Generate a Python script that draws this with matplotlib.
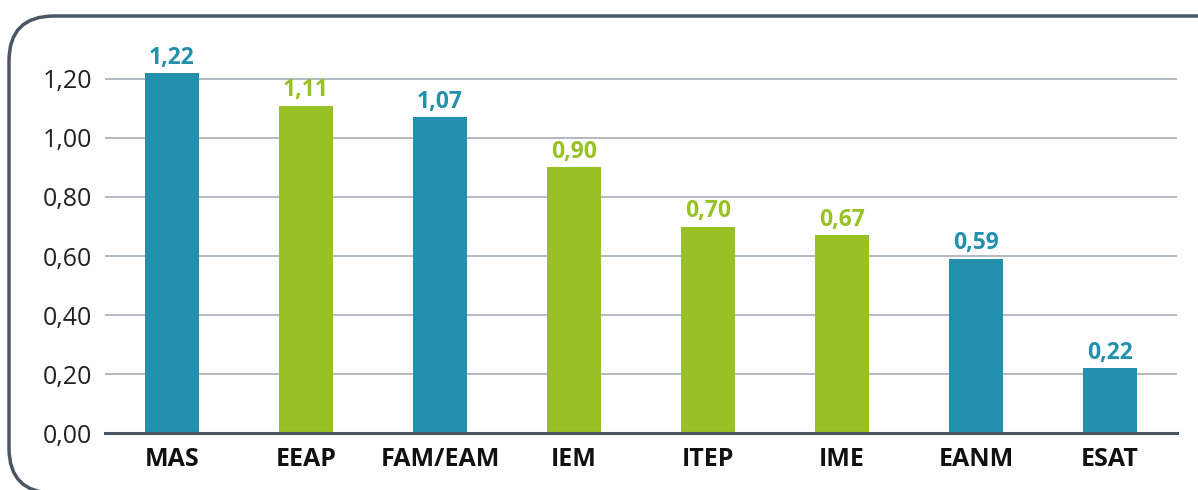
import numpy as np
import matplotlib.pyplot as plt
from matplotlib.patches import FancyBboxPatch

# data
categories = ['MAS', 'EEAP', 'FAM/EAM', 'IEM', 'ITEP', 'IME', 'EANM', 'ESAT']
values = [1.22, 1.11, 1.07, 0.90, 0.70, 0.67, 0.59, 0.22]
groups = ['blue', 'green', 'blue', 'green', 'green', 'green', 'blue', 'blue']
yticks = [0.0, 0.2, 0.4, 0.6, 0.8, 1.0, 1.2]

palette = {'blue': '#2390AE', 'green': '#97C125'}
colors = [palette[g] for g in groups]

plt.rcParams['font.family'] = ['Open Sans', 'DejaVu Sans']

fig = plt.figure(figsize=(11.98, 4.9), dpi=100)
ax = fig.add_axes([0.0876, 0.1163, 0.895, 0.7827])

x = np.arange(len(categories))
ax.bar(x, values, width=0.4, color=colors, zorder=3)

for xi, v, c in zip(x, values, colors):
    ax.text(xi, v + 0.012, f'{v:.2f}'.replace('.', ','), ha='center', va='bottom',
            color=c, fontsize=16.5, fontweight='bold')

ax.set_xlim(-0.5, len(categories) - 0.5)
ax.set_ylim(0, 1.3)
ax.set_yticks(yticks)
ax.set_yticklabels([f'{t:.2f}'.replace('.', ',') for t in yticks], fontsize=18, color='#222222')
ax.set_xticks(x)
ax.set_xticklabels(categories, fontsize=18, fontweight='bold', color='#111111')
ax.tick_params(axis='both', length=0)
ax.tick_params(axis='y', pad=9)
ax.tick_params(axis='x', pad=10)

ax.yaxis.grid(True, color='#B4B9C4', linewidth=1.4, zorder=0)
for s in ['top', 'right', 'left']:
    ax.spines[s].set_visible(False)
ax.spines['bottom'].set_color('#4B5563')
ax.spines['bottom'].set_linewidth(2.2)
ax.spines['bottom'].set_zorder(4)

# rounded frame, cut off on the right and bottom
frame = FancyBboxPatch((0.09, -0.03), 13.0, 4.77,
                       boxstyle='round,pad=0,rounding_size=0.45',
                       transform=fig.dpi_scale_trans, fill=False,
                       edgecolor='#4B5563', linewidth=2.5, clip_on=False)
fig.patches.append(frame)

fig.savefig('out.png', dpi=100)
